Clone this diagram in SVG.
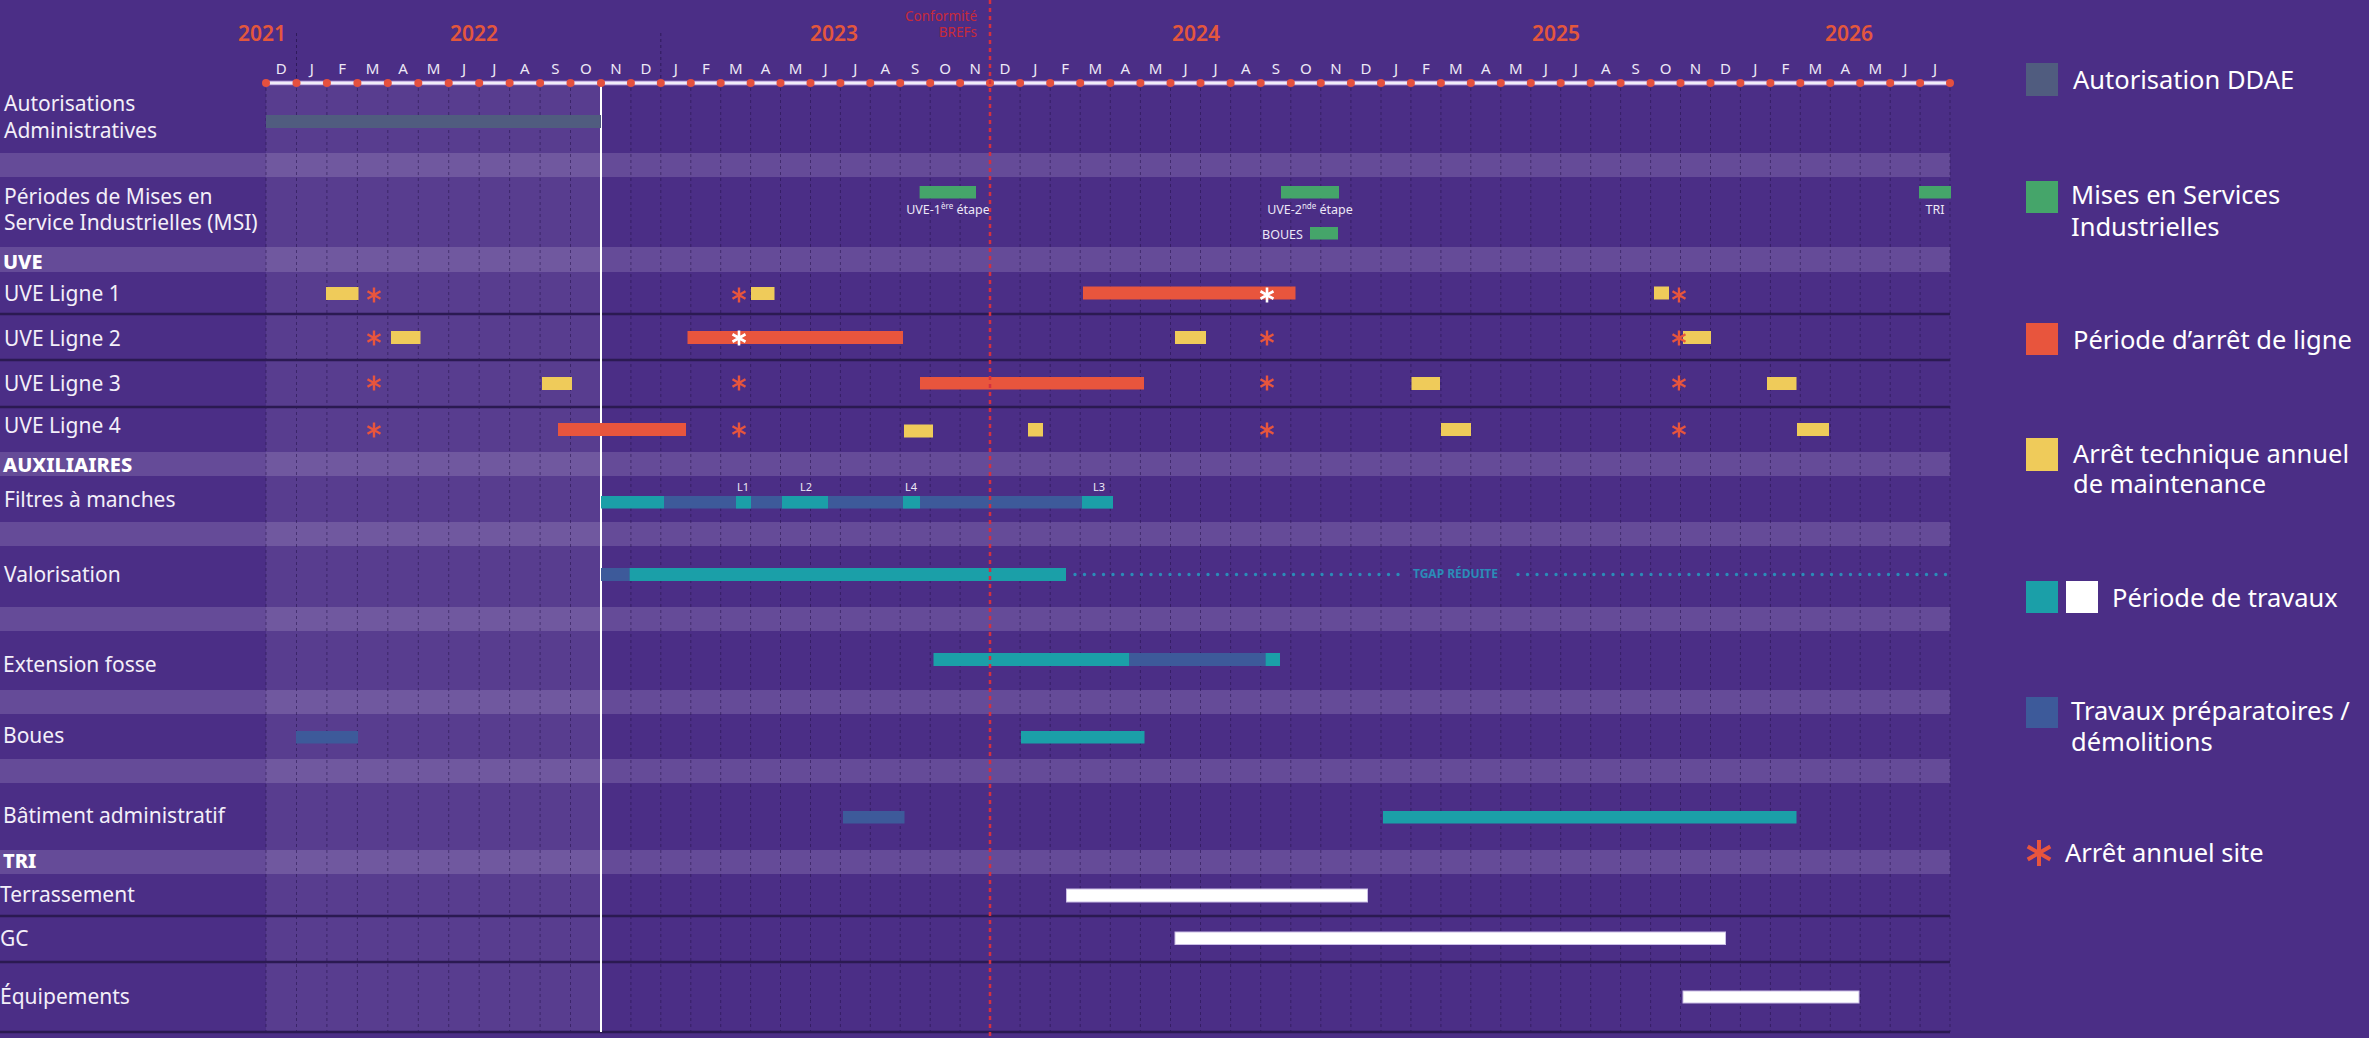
<svg xmlns="http://www.w3.org/2000/svg" width="2369" height="1038" viewBox="0 0 2369 1038">
<style>
text{font-family:"Noto Sans","Liberation Sans",sans-serif}
.lbl{font-size:21px;fill:#F3EFF9}
.hdr{font-size:20px;font-weight:800;fill:#FFFFFF}
.mo{font-size:15px;fill:#EDE8F6;text-anchor:middle}
.yr{font-size:21px;font-weight:600;fill:#E4573C;text-anchor:middle}
.leg{font-size:25.5px;fill:#FFFFFF}
.sm{font-size:12.5px;fill:#EDE8F6}
.tiny{font-size:11px;fill:#EDE8F6;text-anchor:middle}
.ddae{fill:#505C7F}
.msi{fill:#45A56A}
.red{fill:#E8553D}
.yel{fill:#EFCB5A}
.tea{fill:#1B9FA8}
.blu{fill:#3D5A9A}
.wht{fill:#FFFFFF;stroke:#CBBEE6;stroke-width:1}
.band{fill:#654B98}
.sep{stroke:#2B1A52;stroke-width:2.5}
.ao{stroke:#E8553D;stroke-width:2.4;fill:none}
.aw{stroke:#FFFFFF;stroke-width:2.6;fill:none}
</style>
<defs>
<path id="ast" d="M0,-7.5V7.5M-6.5,-3.75L6.5,3.75M-6.5,3.75L6.5,-3.75"/>
<path id="astL" d="M0,-13V13M-11.3,-6.5L11.3,6.5M-11.3,6.5L11.3,-6.5"/>
</defs>

<rect x="0" y="0" width="2369" height="1038" fill="#4B2E86"/>

<g id="bands">
<rect class="band" x="0" y="153" width="1950" height="24"/>
<rect class="band" x="0" y="247" width="1950" height="25"/>
<rect class="band" x="0" y="452" width="1950" height="24"/>
<rect class="band" x="0" y="522" width="1950" height="24"/>
<rect class="band" x="0" y="607" width="1950" height="24"/>
<rect class="band" x="0" y="690" width="1950" height="24"/>
<rect class="band" x="0" y="759" width="1950" height="24"/>
<rect class="band" x="0" y="850" width="1950" height="24"/>
</g>

<rect id="past-overlay" x="266" y="86" width="335" height="946" fill="#FFFFFF" fill-opacity="0.075"/>

<g id="grid" fill="none">
<path stroke="#24124A" stroke-opacity="0.55" stroke-width="1" stroke-dasharray="3 3" d="M266 88V1032M296.5 88V1032M326.9 88V1032M357.4 88V1032M387.8 88V1032M418.3 88V1032M448.7 88V1032M479.2 88V1032M509.6 88V1032M540.1 88V1032M570.5 88V1032M630.9 88V1032M660.8 88V1032M690.8 88V1032M720.7 88V1032M750.6 88V1032M780.5 88V1032M810.5 88V1032M840.4 88V1032M870.3 88V1032M900.2 88V1032M930.2 88V1032M960.1 88V1032M1020.1 88V1032M1050.2 88V1032M1080.2 88V1032M1110.3 88V1032M1140.4 88V1032M1170.5 88V1032M1200.5 88V1032M1230.6 88V1032M1260.7 88V1032M1290.8 88V1032M1320.8 88V1032M1350.9 88V1032M1381 88V1032M1410.9 88V1032M1440.9 88V1032M1470.8 88V1032M1500.8 88V1032M1530.8 88V1032M1560.7 88V1032M1590.7 88V1032M1620.6 88V1032M1650.6 88V1032M1680.5 88V1032M1710.5 88V1032M1740.4 88V1032M1770.4 88V1032M1800.3 88V1032M1830.3 88V1032M1860.2 88V1032M1890.2 88V1032M1920.1 88V1032M1950 88V1032"/>
<path stroke="#24124A" stroke-opacity="0.7" stroke-width="1" stroke-dasharray="3 3" d="M296.5 33V80M660.8 33V80"/>
</g>

<g id="separators">
<line class="sep" x1="0" y1="314" x2="1950" y2="314"/>
<line class="sep" x1="0" y1="360" x2="1950" y2="360"/>
<line class="sep" x1="0" y1="407" x2="1950" y2="407"/>
<line class="sep" x1="0" y1="916" x2="1950" y2="916"/>
<line class="sep" x1="0" y1="962" x2="1950" y2="962"/>
<line class="sep" x1="0" y1="1032" x2="1950" y2="1032"/>
</g>

<line id="today-line" x1="601" y1="83" x2="601" y2="1032" stroke="#FFFFFF" stroke-width="2"/>

<g id="axis">
<line x1="266" y1="83" x2="1950" y2="83" stroke="#C8B6E6" stroke-width="4.5"/>
<line x1="266" y1="83" x2="1950" y2="83" stroke="#FFFFFF" stroke-width="1.5"/>
<g fill="#E4503F">
<circle cx="266" cy="83" r="4"/><circle cx="296.5" cy="83" r="4"/><circle cx="326.9" cy="83" r="4"/><circle cx="357.4" cy="83" r="4"/><circle cx="387.8" cy="83" r="4"/><circle cx="418.3" cy="83" r="4"/><circle cx="448.7" cy="83" r="4"/><circle cx="479.2" cy="83" r="4"/><circle cx="509.6" cy="83" r="4"/><circle cx="540.1" cy="83" r="4"/><circle cx="570.5" cy="83" r="4"/><circle cx="601" cy="83" r="4"/><circle cx="630.9" cy="83" r="4"/><circle cx="660.8" cy="83" r="4"/><circle cx="690.8" cy="83" r="4"/><circle cx="720.7" cy="83" r="4"/><circle cx="750.6" cy="83" r="4"/><circle cx="780.5" cy="83" r="4"/><circle cx="810.5" cy="83" r="4"/><circle cx="840.4" cy="83" r="4"/><circle cx="870.3" cy="83" r="4"/><circle cx="900.2" cy="83" r="4"/><circle cx="930.2" cy="83" r="4"/><circle cx="960.1" cy="83" r="4"/><circle cx="990" cy="83" r="4"/><circle cx="1020.1" cy="83" r="4"/><circle cx="1050.2" cy="83" r="4"/><circle cx="1080.2" cy="83" r="4"/><circle cx="1110.3" cy="83" r="4"/><circle cx="1140.4" cy="83" r="4"/><circle cx="1170.5" cy="83" r="4"/><circle cx="1200.5" cy="83" r="4"/><circle cx="1230.6" cy="83" r="4"/><circle cx="1260.7" cy="83" r="4"/><circle cx="1290.8" cy="83" r="4"/><circle cx="1320.8" cy="83" r="4"/><circle cx="1350.9" cy="83" r="4"/><circle cx="1381" cy="83" r="4"/><circle cx="1410.9" cy="83" r="4"/><circle cx="1440.9" cy="83" r="4"/><circle cx="1470.8" cy="83" r="4"/><circle cx="1500.8" cy="83" r="4"/><circle cx="1530.8" cy="83" r="4"/><circle cx="1560.7" cy="83" r="4"/><circle cx="1590.7" cy="83" r="4"/><circle cx="1620.6" cy="83" r="4"/><circle cx="1650.6" cy="83" r="4"/><circle cx="1680.5" cy="83" r="4"/><circle cx="1710.5" cy="83" r="4"/><circle cx="1740.4" cy="83" r="4"/><circle cx="1770.4" cy="83" r="4"/><circle cx="1800.3" cy="83" r="4"/><circle cx="1830.3" cy="83" r="4"/><circle cx="1860.2" cy="83" r="4"/><circle cx="1890.2" cy="83" r="4"/><circle cx="1920.1" cy="83" r="4"/><circle cx="1950" cy="83" r="4"/>
</g>
<g class="months">
<text class="mo" x="281.3" y="74">D</text><text class="mo" x="311.7" y="74">J</text><text class="mo" x="342.2" y="74">F</text><text class="mo" x="372.6" y="74">M</text><text class="mo" x="403.1" y="74">A</text><text class="mo" x="433.5" y="74">M</text><text class="mo" x="464" y="74">J</text><text class="mo" x="494.4" y="74">J</text><text class="mo" x="524.9" y="74">A</text><text class="mo" x="555.3" y="74">S</text><text class="mo" x="585.8" y="74">O</text><text class="mo" x="616" y="74">N</text><text class="mo" x="645.9" y="74">D</text><text class="mo" x="675.8" y="74">J</text><text class="mo" x="705.8" y="74">F</text><text class="mo" x="735.7" y="74">M</text><text class="mo" x="765.6" y="74">A</text><text class="mo" x="795.5" y="74">M</text><text class="mo" x="825.5" y="74">J</text><text class="mo" x="855.4" y="74">J</text><text class="mo" x="885.3" y="74">A</text><text class="mo" x="915.2" y="74">S</text><text class="mo" x="945.2" y="74">O</text><text class="mo" x="975.1" y="74">N</text><text class="mo" x="1005.1" y="74">D</text><text class="mo" x="1035.2" y="74">J</text><text class="mo" x="1065.2" y="74">F</text><text class="mo" x="1095.3" y="74">M</text><text class="mo" x="1125.4" y="74">A</text><text class="mo" x="1155.5" y="74">M</text><text class="mo" x="1185.5" y="74">J</text><text class="mo" x="1215.6" y="74">J</text><text class="mo" x="1245.7" y="74">A</text><text class="mo" x="1275.8" y="74">S</text><text class="mo" x="1305.8" y="74">O</text><text class="mo" x="1335.9" y="74">N</text><text class="mo" x="1366" y="74">D</text><text class="mo" x="1396" y="74">J</text><text class="mo" x="1425.9" y="74">F</text><text class="mo" x="1455.9" y="74">M</text><text class="mo" x="1485.8" y="74">A</text><text class="mo" x="1515.8" y="74">M</text><text class="mo" x="1545.8" y="74">J</text><text class="mo" x="1575.7" y="74">J</text><text class="mo" x="1605.7" y="74">A</text><text class="mo" x="1635.6" y="74">S</text><text class="mo" x="1665.6" y="74">O</text><text class="mo" x="1695.5" y="74">N</text><text class="mo" x="1725.5" y="74">D</text><text class="mo" x="1755.4" y="74">J</text><text class="mo" x="1785.4" y="74">F</text><text class="mo" x="1815.3" y="74">M</text><text class="mo" x="1845.3" y="74">A</text><text class="mo" x="1875.2" y="74">M</text><text class="mo" x="1905.2" y="74">J</text><text class="mo" x="1935.1" y="74">J</text>
</g>
<g class="years">
<text class="yr" x="262" y="41">2021</text>
<text class="yr" x="474" y="41">2022</text>
<text class="yr" x="834" y="41">2023</text>
<text class="yr" x="1196" y="41">2024</text>
<text class="yr" x="1556" y="41">2025</text>
<text class="yr" x="1849" y="41">2026</text>
</g>
</g>

<g id="row-labels">
<text class="lbl" x="4" y="111">Autorisations</text>
<text class="lbl" x="4" y="138">Administratives</text>
<text class="lbl" x="4" y="204">Périodes de Mises en</text>
<text class="lbl" x="4" y="230">Service Industrielles (MSI)</text>
<text class="hdr" x="3" y="269">UVE</text>
<text class="lbl" x="4" y="301">UVE Ligne 1</text>
<text class="lbl" x="4" y="345.5">UVE Ligne 2</text>
<text class="lbl" x="4" y="390.5">UVE Ligne 3</text>
<text class="lbl" x="4" y="433">UVE Ligne 4</text>
<text class="hdr" x="3" y="472">AUXILIAIRES</text>
<text class="lbl" x="4" y="507">Filtres à manches</text>
<text class="lbl" x="4" y="581.5">Valorisation</text>
<text class="lbl" x="3" y="672">Extension fosse</text>
<text class="lbl" x="3" y="743">Boues</text>
<text class="lbl" x="3" y="823">Bâtiment administratif</text>
<text class="hdr" x="3" y="868">TRI</text>
<text class="lbl" x="0" y="902">Terrassement</text>
<text class="lbl" x="0" y="945.5">GC</text>
<text class="lbl" x="0" y="1004">Équipements</text>
</g>

<g id="row-autorisations">
<rect class="ddae" x="266" y="115" width="335" height="13"/>
</g>

<g id="row-msi">
<rect class="msi" x="919.6" y="186" width="56.4" height="12.5"/>
<text class="sm" x="948" y="214" text-anchor="middle">UVE-1<tspan font-size="8" dy="-5">ère</tspan><tspan dy="5"> étape</tspan></text>
<rect class="msi" x="1281" y="186" width="58" height="12.5"/>
<text class="sm" x="1310" y="214" text-anchor="middle">UVE-2<tspan font-size="8" dy="-5">nde</tspan><tspan dy="5"> étape</tspan></text>
<text class="sm" x="1262" y="239">BOUES</text>
<rect class="msi" x="1310" y="227" width="28" height="12.5"/>
<rect class="msi" x="1919" y="186" width="32" height="12.5"/>
<text class="sm" x="1935" y="214" text-anchor="middle">TRI</text>
</g>

<g id="row-uve1">
<rect class="yel" x="326" y="287" width="32.5" height="13"/>
<use href="#ast" class="ao" x="374" y="295"/>
<use href="#ast" class="ao" x="739" y="295"/>
<rect class="yel" x="751" y="287" width="23.5" height="13"/>
<rect class="red" x="1083" y="286.5" width="212.5" height="13"/>
<use href="#ast" class="aw" x="1267" y="295"/>
<rect class="yel" x="1654" y="286.5" width="15" height="13"/>
<use href="#ast" class="ao" x="1679" y="295"/>
</g>

<g id="row-uve2">
<use href="#ast" class="ao" x="374" y="338"/>
<rect class="yel" x="391" y="331" width="29.5" height="13"/>
<rect class="red" x="687.5" y="331" width="215.5" height="13"/>
<use href="#ast" class="aw" x="739" y="338"/>
<rect class="yel" x="1175" y="331" width="31" height="13"/>
<use href="#ast" class="ao" x="1267" y="338"/>
<rect class="yel" x="1683" y="331" width="28" height="13"/>
<use href="#ast" class="ao" x="1679" y="338"/>
</g>

<g id="row-uve3">
<use href="#ast" class="ao" x="374" y="383"/>
<rect class="yel" x="542" y="377" width="30" height="13"/>
<use href="#ast" class="ao" x="739" y="383"/>
<rect class="red" x="920" y="377" width="224" height="12.5"/>
<use href="#ast" class="ao" x="1267" y="383"/>
<rect class="yel" x="1411.5" y="377" width="28.5" height="13"/>
<use href="#ast" class="ao" x="1679" y="383"/>
<rect class="yel" x="1767" y="377" width="29.5" height="13"/>
</g>

<g id="row-uve4">
<use href="#ast" class="ao" x="374" y="430"/>
<rect class="red" x="558" y="423" width="128" height="13"/>
<use href="#ast" class="ao" x="739" y="430"/>
<rect class="yel" x="904" y="424.5" width="29" height="13"/>
<rect class="yel" x="1028" y="423" width="15" height="13.5"/>
<use href="#ast" class="ao" x="1267" y="430"/>
<rect class="yel" x="1441" y="423" width="30" height="13"/>
<use href="#ast" class="ao" x="1679" y="430"/>
<rect class="yel" x="1797" y="423" width="32" height="13"/>
</g>

<g id="row-filtres">
<rect class="tea" x="601" y="496" width="63" height="12.5"/>
<rect class="blu" x="664" y="496" width="449" height="12.5"/>
<rect class="tea" x="736" y="496" width="15" height="12.5"/>
<rect class="tea" x="782" y="496" width="46" height="12.5"/>
<rect class="tea" x="903" y="496" width="17" height="12.5"/>
<rect class="tea" x="1082" y="496" width="31" height="12.5"/>
<text class="tiny" x="743" y="491">L1</text>
<text class="tiny" x="806" y="491">L2</text>
<text class="tiny" x="911" y="491">L4</text>
<text class="tiny" x="1099" y="491">L3</text>
</g>

<g id="row-valorisation">
<rect class="blu" x="601" y="568" width="28.5" height="13"/>
<rect class="tea" x="629.5" y="568" width="436.5" height="13"/>
<path d="M1075 574.5H1400M1518 574.5H1950" stroke="#2B8CB8" stroke-width="3.4" stroke-linecap="round" stroke-dasharray="0 9.5" fill="none"/>
<text x="1413" y="578" font-size="12px" font-weight="700" fill="#2B8CB8">TGAP RÉDUITE</text>
</g>

<g id="row-extension">
<rect class="tea" x="933.5" y="653" width="196" height="13"/>
<rect class="blu" x="1129.5" y="653" width="136" height="13"/>
<rect class="tea" x="1265.5" y="653" width="14.5" height="13"/>
</g>

<g id="row-boues">
<rect class="blu" x="296" y="731" width="62" height="12.5"/>
<rect class="tea" x="1021" y="731" width="123.5" height="12.5"/>
</g>

<g id="row-batiment">
<rect class="blu" x="843" y="811" width="61.5" height="12.5"/>
<rect class="tea" x="1383" y="811" width="413.5" height="12.5"/>
</g>

<g id="row-tri">
<rect class="wht" x="1066.5" y="889" width="301" height="13"/>
<rect class="wht" x="1175" y="932" width="550.5" height="12.5"/>
<rect class="wht" x="1683" y="991" width="176" height="12"/>
</g>

<g id="conformite">
<line x1="990" y1="0" x2="990" y2="1038" stroke="#D4303F" stroke-width="2.5" stroke-dasharray="4 4"/>
<text x="977" y="21" font-size="13.5px" fill="#C72A3A" text-anchor="end">Conformité</text>
<text x="977" y="37" font-size="13.5px" fill="#C72A3A" text-anchor="end">BREFs</text>
</g>

<g id="legend">
<rect class="ddae" x="2026" y="63" width="32" height="33"/>
<text class="leg" x="2073" y="89">Autorisation DDAE</text>
<rect class="msi" x="2026" y="181" width="32" height="32"/>
<text class="leg" x="2071" y="204">Mises en Services</text>
<text class="leg" x="2071" y="236">Industrielles</text>
<rect class="red" x="2026" y="323" width="32" height="32"/>
<text class="leg" x="2073" y="349">Période d’arrêt de ligne</text>
<rect class="yel" x="2026" y="438" width="32" height="33"/>
<text class="leg" x="2073" y="463">Arrêt technique annuel</text>
<text class="leg" x="2073" y="493">de maintenance</text>
<rect class="tea" x="2026" y="581" width="32" height="32"/>
<rect x="2066" y="581" width="32" height="32" fill="#FFFFFF"/>
<text class="leg" x="2112" y="607">Période de travaux</text>
<rect class="blu" x="2026" y="697" width="32" height="31"/>
<text class="leg" x="2071" y="720">Travaux préparatoires /</text>
<text class="leg" x="2071" y="751">démolitions</text>
<use href="#astL" x="2039" y="853" stroke="#E8553D" stroke-width="4" fill="none"/>
<text class="leg" x="2065" y="862">Arrêt annuel site</text>
</g>
</svg>
